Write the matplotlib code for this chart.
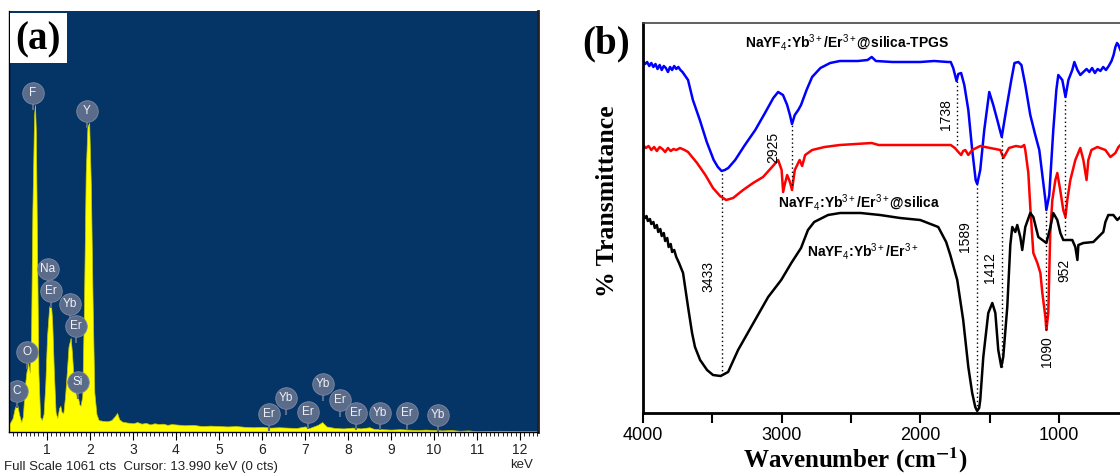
import numpy as np
import matplotlib.pyplot as plt
from matplotlib.patches import Rectangle
from matplotlib.transforms import offset_copy

plt.rcParams['mathtext.fontset'] = 'custom'
plt.rcParams['mathtext.rm'] = 'Liberation Sans'
plt.rcParams['mathtext.it'] = 'Liberation Sans:italic'
plt.rcParams['mathtext.bf'] = 'Liberation Sans:bold'

# ---- (a) EDS spectrum, counts vs keV
eds_kev = [0.10, 0.15, 0.20, 0.25, 0.30, 0.35, 0.40, 0.44, 0.48, 0.52, 0.56, 0.60, 0.63,
           0.66, 0.70, 0.72, 0.74, 0.77, 0.80, 0.84, 0.88, 0.92, 0.96, 1.00, 1.05, 1.09,
           1.12, 1.16, 1.20, 1.24, 1.28, 1.31, 1.34, 1.38, 1.42, 1.46, 1.50, 1.55, 1.58,
           1.62, 1.66, 1.70, 1.72, 1.75, 1.78, 1.82, 1.86, 1.90, 1.94, 1.98, 2.02, 2.06,
           2.10, 2.15, 2.20, 2.30, 2.40, 2.50, 2.58, 2.63, 2.68, 2.75, 2.85, 3.0, 3.1,
           3.2, 3.3, 3.4, 3.5, 3.6, 3.7, 3.8, 3.9, 4.0, 4.2, 4.4, 4.6, 4.8, 5.0, 5.2,
           5.4, 5.6, 5.8, 6.0, 6.2, 6.4, 6.6, 6.8, 7.0, 7.1, 7.3, 7.4, 7.5, 7.7, 7.9,
           8.1, 8.3, 8.5, 8.6, 8.8, 9.0, 9.2, 9.4, 9.6, 9.8, 10.0, 10.2, 10.4, 10.6,
           10.8, 11.0, 11.5, 12.0, 12.42]
eds_counts = [20, 25, 35, 60, 73, 45, 25, 40, 110, 150, 174, 150, 250,
              560, 800, 824, 760, 450, 150, 38, 30, 45, 120, 240, 315, 325,
              280, 150, 50, 35, 60, 66, 50, 48, 90, 150, 215, 237, 200,
              130, 100, 85, 88, 70, 66, 90, 320, 650, 770, 779, 620, 330,
              100, 45, 30, 28, 27, 30, 40, 48, 32, 26, 24, 22, 25,
              21, 23, 19, 22, 20, 21, 18, 20, 19, 17, 18, 15, 16, 15, 14,
              15, 13, 12, 13, 11, 12, 11, 10, 14, 10, 18, 25, 14, 10, 9,
              11, 9, 12, 8, 7, 6, 7, 6, 5, 6, 5, 4, 5, 3,
              4, 2, 3, 2, 2]
full_scale = 1061

eds_labels = ['F', 'Y', 'Na', 'Er', 'Yb', 'Er', 'O', 'Si', 'C',
              'Er', 'Yb', 'Er', 'Yb', 'Er', 'Er', 'Yb', 'Er', 'Yb']
eds_label_kev = [0.67, 1.93, 1.02, 1.09, 1.53, 1.67, 0.53, 1.72, 0.30,
                 6.16, 6.56, 7.07, 7.42, 7.81, 8.19, 8.74, 9.37, 10.09]
eds_label_cts = [854, 809, 411, 355, 323, 267, 202, 126, 103,
                 45, 86, 50, 121, 81, 48, 48, 48, 43]

# ---- (b) FTIR spectra, transmittance (arb. units, offset)
tpgs_wn = [4000, 3985, 3970, 3955, 3940, 3925, 3910, 3895, 3880, 3865, 3850, 3835, 3820,
           3805, 3790, 3775, 3760, 3745, 3730, 3715, 3700, 3675, 3640, 3590, 3540, 3490,
           3460, 3433, 3410, 3385, 3335, 3265, 3190, 3120, 3060, 3025, 2990, 2960, 2940,
           2925, 2905, 2880, 2860, 2820, 2780, 2720, 2650, 2580, 2450, 2380, 2350, 2320,
           2200, 2000, 1900, 1800, 1780, 1762, 1738, 1725, 1705, 1682, 1653, 1625, 1600,
           1589, 1567, 1538, 1502, 1473, 1444, 1412, 1380, 1343, 1320, 1292, 1270, 1242,
           1206, 1170, 1141, 1119, 1097, 1090, 1069, 1040, 1018, 1004, 975, 952, 931, 903,
           888, 866, 845, 823, 800, 780, 760, 740, 720, 700, 680, 660, 640, 620, 605, 592,
           580, 570, 556]
tpgs_t = [352, 349, 351, 347, 350, 346, 349, 344, 348, 343, 347, 345, 341,
          346, 343, 347, 344, 346, 343, 341, 338, 333, 313, 293, 271, 253,
          246, 242, 243, 245, 253, 268, 283, 300, 315, 321, 318, 308, 298,
          289, 298, 303, 308, 323, 336, 345, 350, 352, 352, 353, 356, 352,
          351, 351, 352, 351, 351, 345, 332, 339, 340, 328, 303, 263, 233,
          229, 243, 283, 321, 308, 293, 276, 303, 333, 350, 351, 348, 328,
          298, 278, 263, 238, 213, 203, 218, 283, 323, 338, 333, 316, 333, 343,
          351, 343, 338, 341, 344, 341, 345, 340, 344, 342, 346, 343, 347, 352, 358, 366,
          370, 368, 363]

silica_wn = [4000, 3980, 3960, 3940, 3920, 3900, 3880, 3860, 3840, 3820, 3800, 3780, 3760,
             3733, 3700, 3675, 3610, 3550, 3495, 3444, 3400, 3350, 3278, 3206, 3134, 3069,
             3025, 3000, 2989, 2975, 2960, 2940, 2925, 2905, 2870, 2852, 2830, 2780, 2690,
             2580, 2350, 2300, 2000, 1780, 1750, 1725, 1705, 1690, 1675, 1653, 1625, 1567,
             1495, 1422, 1400, 1360, 1310, 1270, 1250, 1242, 1220, 1206, 1184, 1155, 1133,
             1119, 1097, 1090, 1076, 1069, 1062, 1047, 1025, 1011, 990, 968, 952, 939, 917,
             881, 845, 823, 800, 787, 765, 722, 664, 628, 592, 570, 556]
silica_t = [268, 265, 267, 263, 266, 262, 266, 264, 261, 265, 262, 264, 263,
            265, 263, 261, 250, 238, 225, 217, 213, 215, 223, 230, 236, 246,
            253, 243, 221, 230, 238, 231, 223, 243, 253, 247, 258, 263, 266,
            268, 270, 268, 268, 268, 265, 261, 258, 262, 263, 258, 263, 267,
            265, 263, 255, 265, 267, 266, 268, 263, 240, 206, 160, 150, 140,
            120, 96, 83, 100, 140, 180, 213, 233, 240, 223, 203, 196, 213, 233,
            253, 265, 253, 233, 253, 263, 266, 263, 256, 260, 266, 268]

core_wn = [4000, 3985, 3975, 3965, 3950, 3940, 3925, 3915, 3900, 3890, 3875, 3865, 3850,
           3840, 3825, 3815, 3800, 3790, 3775, 3760, 3740, 3711, 3675, 3646, 3625, 3588,
           3538, 3495, 3440, 3386, 3314, 3220, 3097, 3003, 2930, 2860, 2810, 2765, 2665,
           2578, 2430, 2290, 2145, 2000, 1870, 1813, 1783, 1733, 1690, 1653, 1625, 1603,
           1589, 1575, 1567, 1545, 1509, 1480, 1458, 1437, 1415, 1401, 1372, 1350, 1336,
           1314, 1300, 1278, 1264, 1242, 1206, 1184, 1148, 1119, 1090, 1061, 1040, 1011,
           989, 968, 931, 903, 881, 866, 859, 823, 751, 715, 679, 664, 643, 607, 578, 556]
core_t = [198, 195, 197, 192, 194, 189, 191, 185, 188, 181, 184, 177, 180,
          172, 175, 166, 169, 161, 163, 156, 150, 140, 106, 80, 66, 53,
          43, 38, 37, 41, 63, 86, 116, 133, 150, 165, 183, 191, 198,
          200, 200, 198, 195, 193, 186, 171, 158, 133, 93, 46, 20, 6,
          2, 5, 13, 56, 100, 110, 100, 63, 46, 56, 106, 168, 186,
          181, 188, 176, 163, 186, 200, 196, 176, 173, 170, 186, 200, 193,
          180, 173, 173, 173, 166, 153, 168, 170, 171, 176, 181, 191, 198, 198, 193, 196]

peak_wn = [3433, 2925, 1738, 1589, 1412, 1090, 952]
peak_top = [242, 288, 332, 229, 276, 203, 316]
peak_bottom = [38, 228, 268, 3, 46, 83, 178]
peak_text_wn = [3531, 3061, 1812, 1675, 1495, 1083, 960]
peak_text_t = [136, 266, 298, 176, 145, 61, 143]

curve_names = ['NaYF$_4$:Yb$^{3+}$/Er$^{3+}$@silica-TPGS',
               'NaYF$_4$:Yb$^{3+}$/Er$^{3+}$@silica',
               'NaYF$_4$:Yb$^{3+}$/Er$^{3+}$']
curve_name_wn = [3264, 3025, 2816]
curve_name_t = [370, 210, 161]

W, H = 1120, 475
fig = plt.figure(figsize=(W / 100, H / 100), dpi=100)

# ---------------- panel (a)
ax1 = fig.add_axes([9 / W, 43 / H, 529 / W, 421 / H])
ax1.set_facecolor('#053466')
ax1.fill_between(eds_kev, eds_counts, color='#ffff00', lw=0.5, edgecolor='#c8c800')
ax1.set_xlim(0.116, 12.42)
ax1.set_ylim(0, full_scale)
ax1.set_yticks([])
ax1.set_xticks(range(1, 13))
ax1.set_xticks(np.arange(0.2, 12.42, 0.1), minor=True)
ax1.tick_params(axis='x', which='major', direction='out', length=6, width=0.8,
                pad=2, labelsize=10, labelcolor='#222222')
ax1.tick_params(axis='x', which='minor', direction='out', length=3, width=0.6)
for lab in ax1.get_xticklabels():
    lab.set_fontfamily('Liberation Sans')
ax1.spines['top'].set_visible(False)
ax1.spines['left'].set_linewidth(1.0)
ax1.spines['right'].set_linewidth(2.0)
ax1.spines['right'].set_color('#222222')
ax1.spines['bottom'].set_linewidth(1.0)

bubble = '#5b6c8b'
stem = offset_copy(ax1.transData, fig=fig, x=0, y=-12, units='dots')
ax1.plot(eds_label_kev, eds_label_cts, ls='none', marker='|', ms=7, mew=1.5,
         color=bubble, transform=stem)
ax1.plot(eds_label_kev, eds_label_cts, ls='none', marker='o', ms=15.5, mew=0.6,
         color=bubble, mec='#7d8aa3')
for name, x, y in zip(eds_labels, eds_label_kev, eds_label_cts):
    ax1.text(x, y, name, ha='center', va='center', fontsize=8.5,
             family='Liberation Sans', color='#eef1f6')

fig.text(4 / W, 1 - 467 / H, 'Full Scale 1061 cts  Cursor: 13.990 keV (0 cts)',
         ha='left', va='center', fontsize=9.5, family='Liberation Sans', color='#222222')
fig.text(522 / W, 1 - 465 / H, 'keV', ha='center', va='center', fontsize=9.5,
         family='Liberation Sans', color='#222222')

fig.patches.append(Rectangle((10 / W, 1 - 63 / H), 57 / W, 50 / H, transform=fig.transFigure,
                             facecolor='white', edgecolor='none', zorder=5))
fig.text(38 / W, 1 - 40 / H, '(a)', ha='center', va='center', fontsize=28,
         family='Liberation Serif', weight='bold', zorder=6)

# ---------------- panel (b)
ax2 = fig.add_axes([643 / W, 62 / H, 499 / W, 390 / H])
ax2.plot(tpgs_wn, tpgs_t, color='#0000ff', lw=1.8)
ax2.plot(silica_wn, silica_t, color='#ff0000', lw=1.8)
ax2.plot(core_wn, core_t, color='black', lw=1.8)
ax2.vlines(peak_wn, peak_bottom, peak_top, colors='black', linestyles=(0, (1, 2)), lw=1.0)
for wn, x, y in zip(peak_wn, peak_text_wn, peak_text_t):
    ax2.text(x, y, str(wn), rotation=90, ha='center', va='center', fontsize=10,
             family='Liberation Sans')
for name, x, y in zip(curve_names, curve_name_wn, curve_name_t):
    ax2.text(x, y, name, ha='left', va='center', fontsize=10, weight='bold',
             family='Liberation Sans', math_fontfamily='custom')

ax2.set_xlim(4000, 400)
ax2.set_ylim(0, 390)
ax2.set_yticks([])
ax2.set_xticks([4000, 3000, 2000, 1000])
ax2.set_xticks([3500, 2500, 1500, 500], minor=True)
ax2.tick_params(axis='x', which='both', direction='out', length=7, width=1.5,
                pad=3, labelsize=13)
for lab in ax2.get_xticklabels():
    lab.set_fontfamily('Liberation Sans')
ax2.spines['left'].set_linewidth(2.0)
ax2.spines['bottom'].set_linewidth(2.0)
ax2.spines['top'].set_linewidth(1.2)
ax2.spines['top'].set_color('#444444')

fig.text(855 / W, 1 - 460 / H, 'Wavenumber (cm$^{\\mathbf{-1}}$)', ha='center', va='center',
         fontsize=18, family='Liberation Serif', weight='bold', math_fontfamily='stix')
fig.text(608 / W, 1 - 201 / H, '% Transmittance', ha='center', va='center', rotation=90,
         fontsize=18.5, family='Liberation Serif', weight='bold')
fig.text(606 / W, 1 - 44 / H, '(b)', ha='center', va='center', fontsize=28,
         family='Liberation Serif', weight='bold')

fig.savefig('out.png', dpi=100)
